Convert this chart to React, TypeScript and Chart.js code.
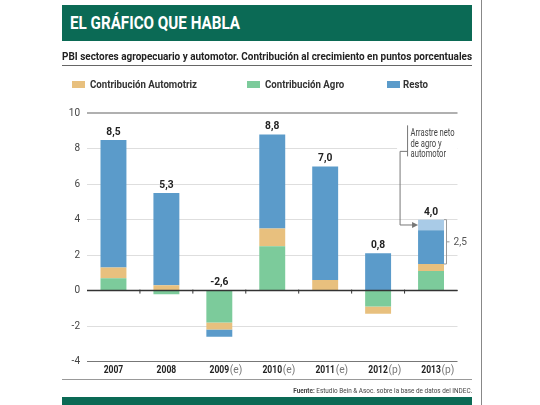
import React, { useEffect, useRef } from "react";
import Chart from "chart.js/auto";

const categories = ["2007", "2008", "2009", "2010", "2011", "2012", "2013"];
const categorySuffix = ["", "", "(e)", "(e)", "(e)", "(p)", "(p)"];
const agro = [0.7, -0.2, -1.8, 2.5, 0, -0.9, 1.1];
const automotriz = [0.6, 0.3, -0.4, 1.0, 0.6, -0.4, 0.4];
const resto = [7.2, 5.2, -0.4, 5.3, 6.4, 2.1, 1.9];
const arrastre = [null, null, null, null, null, null, 0.6];
const totals = [8.5, 5.3, -2.6, 8.8, 7.0, 0.8, 4.0];
const yTicks = [-4, -2, 0, 2, 4, 6, 8, 10];
const bracketValue = 2.5;
const annotationLines = ["Arrastre neto", "de agro y", "automotor"];

const TITLE = "EL GRÁFICO QUE HABLA";
const SUBTITLE = "PBI sectores agropecuario y automotor. Contribución al crecimiento en puntos porcentuales";
const SOURCE_BOLD = "Fuente:";
const SOURCE_REST = " Estudio Bein & Asoc. sobre la base de datos del INDEC.";

const C_AGRO = "#7ccb9b";
const C_AUTO = "#e8c07e";
const C_RESTO = "#5b9bca";
const C_ARR = "#a9cbe7";
const GREEN = "#0b6a55";
const FONT = "Roboto, 'Liberation Sans', sans-serif";

const fmt = (v: number) => v.toFixed(1).replace(".", ",");

let mctx: CanvasRenderingContext2D | null = null;
function measure(text: string, font: string): number {
  if (!mctx) mctx = document.createElement("canvas").getContext("2d");
  mctx!.font = font;
  return mctx!.measureText(text).width;
}
function fit(text: string, font: string, width: number): number {
  return width / measure(text, font);
}

function narrowText(ctx: any, text: string, x: number, y: number, font: string, k: number, align: string) {
  ctx.save();
  ctx.font = font;
  ctx.textAlign = align;
  ctx.translate(x, y);
  ctx.scale(k, 1);
  ctx.fillText(text, 0, 0);
  ctx.restore();
}

const overlayPlugin = {
  id: "overlay",
  afterDatasetsDraw(chart: any) {
    const ctx = chart.ctx;
    const xs = chart.scales.x;
    const ys = chart.scales.y;
    const area = chart.chartArea;
    const y0 = ys.getPixelForValue(0);
    ctx.save();
    // zero line
    ctx.strokeStyle = "#333";
    ctx.lineWidth = 1.5;
    ctx.beginPath();
    ctx.moveTo(area.left, y0);
    ctx.lineTo(area.right, y0);
    ctx.stroke();
    ctx.lineWidth = 1;
    for (let i = 0; i < categories.length - 1; i++) {
      const x = (xs.getPixelForValue(i) + xs.getPixelForValue(i + 1)) / 2;
      ctx.beginPath();
      ctx.moveTo(x, y0 - 1);
      ctx.lineTo(x, y0 + 3);
      ctx.stroke();
    }
    // total labels
    const fTot = `bold 11.5px ${FONT}`;
    const kTot = fit("8,5", fTot, 14.3);
    ctx.fillStyle = "#222";
    ctx.textBaseline = "middle";
    const series = [agro, automotriz, resto, arrastre];
    for (let i = 0; i < categories.length; i++) {
      let pos = 0;
      series.forEach((s) => {
        const v = s[i];
        if (v != null && v > 0) pos += v;
      });
      narrowText(ctx, fmt(totals[i]), xs.getPixelForValue(i), ys.getPixelForValue(pos) - 8, fTot, kTot, "center");
    }
    // x labels
    const yLab = area.bottom + 9;
    const fYear = `bold 10.5px ${FONT}`;
    const kYear = fit("2007", fYear, 19.6);
    const fSuf = `10px ${FONT}`;
    const kSuf = fit("(e)", fSuf, 12.5);
    for (let i = 0; i < categories.length; i++) {
      const x = xs.getPixelForValue(i);
      ctx.fillStyle = "#222";
      narrowText(ctx, categories[i], x, yLab, fYear, kYear, "center");
      if (categorySuffix[i]) {
        ctx.fillStyle = "#777";
        narrowText(ctx, categorySuffix[i], x + 10.5, yLab, fSuf, kSuf, "left");
      }
    }
    // annotation for last bar
    const last = categories.length - 1;
    const bar = chart.getDatasetMeta(3).data[last];
    const barLeft = bar.x - bar.width / 2;
    const barRight = bar.x + bar.width / 2;
    const topV = totals[last];
    const botV = topV - bracketValue;
    const yTop = ys.getPixelForValue(topV);
    const yBot = ys.getPixelForValue(botV);
    const textTop = ys.getPixelForValue(9.15);
    ctx.fillStyle = "#fff";
    ctx.fillRect(barLeft - 21, textTop - 2, area.right - (barLeft - 21), 32);
    const vx = barLeft - 10.5;
    ctx.strokeStyle = "#777";
    ctx.lineWidth = 1;
    ctx.beginPath();
    ctx.moveTo(vx, textTop - 3);
    ctx.lineTo(vx, textTop + 28);
    ctx.stroke();
    const yArrow = (bar.y + bar.base) / 2;
    const cx = barLeft - 18;
    const yStart = textTop + 23;
    ctx.beginPath();
    ctx.moveTo(vx, yStart);
    ctx.lineTo(cx, yStart);
    ctx.lineTo(cx, yArrow);
    ctx.lineTo(barLeft - 4, yArrow);
    ctx.stroke();
    ctx.fillStyle = "#777";
    ctx.beginPath();
    ctx.moveTo(barLeft, yArrow);
    ctx.lineTo(barLeft - 6, yArrow - 3);
    ctx.lineTo(barLeft - 6, yArrow + 3);
    ctx.closePath();
    ctx.fill();
    const fAnn = `10.5px ${FONT}`;
    const kAnn = fit("Arrastre neto", fAnn, 44);
    ctx.fillStyle = "#444";
    ctx.textBaseline = "top";
    annotationLines.forEach((t, k) => narrowText(ctx, t, vx + 3, textTop + k * 10.3, fAnn, kAnn, "left"));
    // bracket
    const bx = barRight + 2.5;
    ctx.strokeStyle = "#999";
    ctx.beginPath();
    ctx.moveTo(barRight, yTop);
    ctx.lineTo(bx, yTop);
    ctx.lineTo(bx, yBot);
    ctx.lineTo(barRight, yBot);
    ctx.moveTo(bx, (yTop + yBot) / 2);
    ctx.lineTo(bx + 3, (yTop + yBot) / 2);
    ctx.stroke();
    ctx.fillStyle = "#555";
    ctx.textBaseline = "middle";
    const fBr = `11px ${FONT}`;
    narrowText(ctx, fmt(bracketValue), bx + 7, (yTop + yBot) / 2, fBr, fit("2,5", fBr, 13.4), "left");
    ctx.restore();
  },
};

function Narrow({ text, font, width, origin = "left" }: { text: string; font: string; width: number; origin?: string }) {
  const k = fit(text, font, width);
  return (
    <span style={{ display: "inline-block", transform: `scaleX(${k})`, transformOrigin: `${origin} center`, whiteSpace: "nowrap" }}>{text}</span>
  );
}

export default function App() {
  const ref = useRef<HTMLCanvasElement>(null);
  useEffect(() => {
    if (!ref.current) return;
    const chart = new Chart(ref.current, {
      type: "bar",
      data: {
        labels: categories,
        datasets: [
          { label: "Contribución Agro", data: agro, backgroundColor: C_AGRO },
          { label: "Contribución Automotriz", data: automotriz, backgroundColor: C_AUTO },
          { label: "Resto", data: resto, backgroundColor: C_RESTO },
          { label: "Arrastre", data: arrastre as any, backgroundColor: C_ARR },
        ],
      },
      options: {
        animation: false,
        responsive: false,
        layout: { padding: { left: 57, right: 82.5, top: 113.3, bottom: 43.5 } },
        datasets: { bar: { barPercentage: 0.49, categoryPercentage: 1, borderWidth: 0 } },
        plugins: { legend: { display: false }, tooltip: { enabled: false } },
        scales: {
          x: { stacked: true, display: false },
          y: {
            stacked: true,
            min: -4,
            max: 10,
            afterBuildTicks: (s: any) => {
              s.ticks = yTicks.map((v) => ({ value: v }));
            },
            afterFit: (s: any) => {
              s.width = 30;
            },
            border: { display: false },
            grid: {
              drawTicks: false,
              color: (c: any) =>
                c.tick.value === 10 ? "#b0b0b0" : c.tick.value === -4 ? "#777" : c.tick.value === 0 ? "#333" : "#dedede",
              lineWidth: (c: any) => (c.tick.value === 10 ? 2 : 1),
            },
            ticks: {
              padding: 7,
              color: "#444",
              font: { family: FONT, size: 10 },
              callback: (v: any) => String(v),
            },
          },
        },
      },
      plugins: [overlayPlugin],
    });
    return () => chart.destroy();
  }, []);

  const legendFont = `bold 10.5px ${FONT}`;
  const kLegend = fit("Contribución Automotriz", legendFont, 107);
  const legend = [
    { label: "Contribución Automotriz", color: C_AUTO, sx: 72, tx: 90 },
    { label: "Contribución Agro", color: C_AGRO, sx: 247, tx: 265 },
    { label: "Resto", color: C_RESTO, sx: 387, tx: 403 },
  ];
  const srcFont = `7px ${FONT}`;
  const kSrc = 179 / (measure(SOURCE_BOLD, `bold 7px ${FONT}`) + measure(SOURCE_REST, srcFont));

  return (
    <div style={{ position: "absolute", left: 0, top: 0, width: 540, height: 405, background: "#fff", overflow: "hidden", fontFamily: FONT }}>
      <canvas ref={ref} width={540} height={405} style={{ position: "absolute", left: 0, top: 0 }} />
      <div style={{ position: "absolute", left: 62, top: 5, width: 410, height: 36, background: GREEN }}>
        <div style={{ position: "absolute", left: 8, top: 0, lineHeight: "36px", color: "#fff", fontWeight: "bold", fontSize: 19 }}>
          <Narrow text={TITLE} font={`bold 19px ${FONT}`} width={170} />
        </div>
      </div>
      <div style={{ position: "absolute", left: 62, top: 49, width: 410, height: 16, borderBottom: "1px solid #666", fontWeight: "bold", fontSize: 10.5, color: "#222", lineHeight: "16px", whiteSpace: "nowrap" }}>
        <Narrow text={SUBTITLE} font={`bold 10.5px ${FONT}`} width={410} />
      </div>
      {legend.map((l) => (
        <React.Fragment key={l.label}>
          <div style={{ position: "absolute", left: l.sx, top: 81, width: 13, height: 7, background: l.color }} />
          <div style={{ position: "absolute", left: l.tx, top: 77, lineHeight: "16px", fontSize: 10.5, fontWeight: "bold", color: "#333", whiteSpace: "nowrap" }}>
            <span style={{ display: "inline-block", transform: `scaleX(${kLegend})`, transformOrigin: "left center" }}>{l.label}</span>
          </div>
        </React.Fragment>
      ))}
      <div style={{ position: "absolute", left: 62, top: 379, width: 410, height: 1, background: "#999" }} />
      <div style={{ position: "absolute", right: 540 - 472, top: 385, fontSize: 7, color: "#444", whiteSpace: "nowrap", lineHeight: "12px" }}>
        <span style={{ display: "inline-block", transform: `scaleX(${kSrc})`, transformOrigin: "right center", whiteSpace: "pre" }}>
          <b>{SOURCE_BOLD}</b>{SOURCE_REST}
        </span>
      </div>
      <div style={{ position: "absolute", left: 62, top: 397, width: 410, height: 8, background: GREEN }} />
      <div style={{ position: "absolute", left: 481, top: 0, width: 1, height: 405, background: "#888" }} />
    </div>
  );
}
